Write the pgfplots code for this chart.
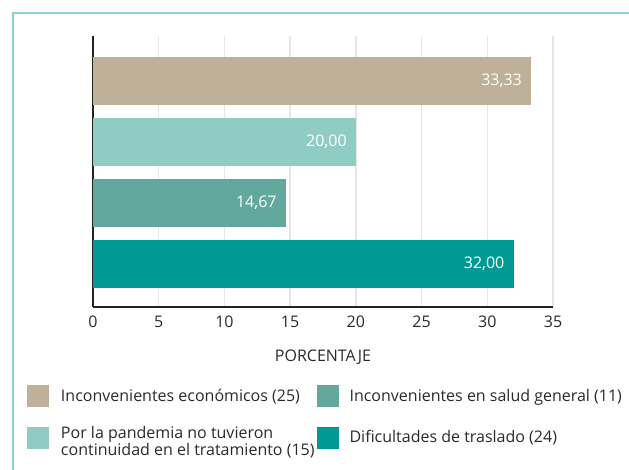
\documentclass[border=0pt]{standalone}
\usepackage{pgfplots}
\pgfplotsset{compat=1.18}
\usepackage{fontspec}
\setmainfont{Open Sans}
\definecolor{cEcon}{HTML}{BFB09A}
\definecolor{cPand}{HTML}{8FCCC4}
\definecolor{cSalud}{HTML}{63A89C}
\definecolor{cTras}{HTML}{009994}
\definecolor{cFrame}{HTML}{8FCFC6}
\definecolor{cGrid}{HTML}{E6E6E6}
\definecolor{cAxis}{HTML}{222222}
\definecolor{cText}{HTML}{2A2A2A}
\newcommand{\f}{\fontsize{16}{19}\selectfont}
\pgfplotsset{
  legA/.style={legend image code/.code={\fill[##1] (0pt,-11pt) rectangle (22pt,11pt); \path (34pt,0pt);}},
  legB/.style={legend image code/.code={\path (-2pt,0pt); \fill[##1] (0pt,-11pt) rectangle (22pt,11pt); \path (33pt,0pt);}},
}
\begin{document}
\begin{tikzpicture}
\path[use as bounding box] (0pt,0pt) rectangle (629pt,470pt);
\draw[cFrame, line width=2.2pt] (13pt,0pt) -- (13pt,457pt) -- (629pt,457pt);
\begin{axis}[
  at={(93pt,163pt)}, anchor=south west,
  scale only axis, width=460pt, height=271pt,
  xbar, bar width=48pt, bar shift=0pt,
  xmin=0, xmax=35, ymin=-0.715, ymax=3.742,
  xtick={0,5,...,35}, ytick=\empty,
  xmajorgrids, grid style={cGrid, line width=1.5pt},
  axis x line*=bottom, axis y line*=left,
  axis line style={-, line width=2pt, cAxis},
  major tick length=0pt,
  /pgf/number format/assume math mode=true,
  tick label style={font=\f, color=cText},
  xticklabel style={anchor=base, yshift=-21pt},
  xlabel={PORCENTAJE},
  xlabel style={font=\f, color=cText, at={(axis description cs:0.5,0)}, anchor=base, yshift=-55pt},
  point meta=x,
  nodes near coords,
  nodes near coords style={white, font=\f, anchor=east, inner sep=0pt, xshift=-9pt,
    /pgf/number format/.cd, fixed, zerofill, precision=2, use comma},
  legend columns=2,
  legend style={at={(-0.14348,-0.2878)}, anchor=north west, draw=none, fill=none,
    inner sep=0pt, outer sep=0pt, font=\f, text=cText, row sep=19pt, column sep=0pt,
    nodes={inner sep=0pt, anchor=west}},
  legend cell align=left,
]
\addplot[legA, fill=cEcon, draw=none] coordinates {(33.33,3)};
\addplot[legB, fill=cSalud, draw=none] coordinates {(14.67,1)};
\addplot[legA, fill=cPand, draw=none] coordinates {(20,2)};
\addplot[legB, fill=cTras, draw=none] coordinates {(32,0)};
\legend{Inconvenientes económicos (25), Inconvenientes en salud general (11),
  {\renewcommand{\arraystretch}{0.9}\begin{tabular}{@{}l@{}}Por la pandemia no tuvieron\\continuidad en el tratamiento (15)\end{tabular}},
  Dificultades de traslado (24)}
\end{axis}
\end{tikzpicture}
\end{document}
